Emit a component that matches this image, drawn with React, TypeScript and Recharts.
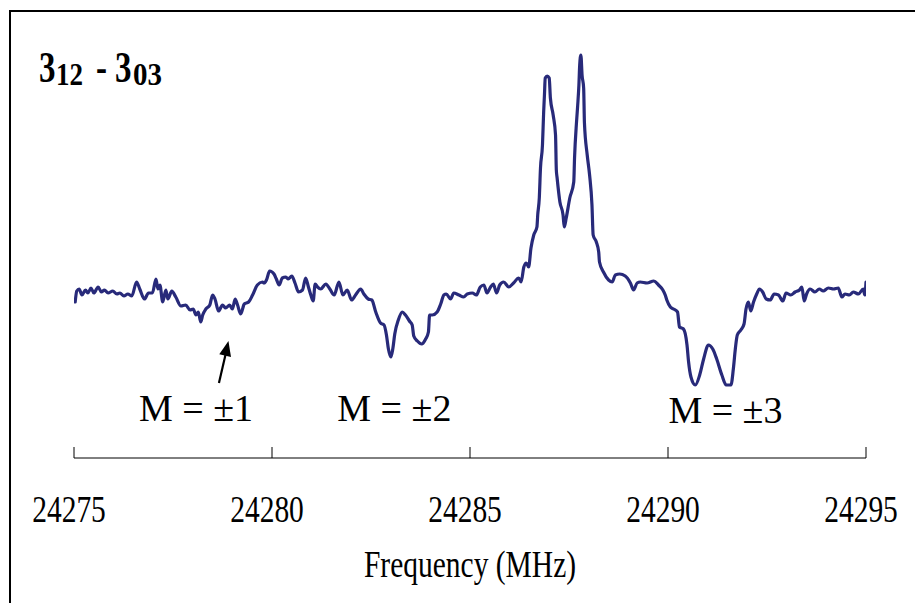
import { Line, LineChart, ReferenceDot, ReferenceLine, XAxis, YAxis } from "recharts"

// Rotational spectrum, 3_12 - 3_03 transition with Stark components.
// Frequencies (MHz) and signal (arb. units).
const FREQ_MHZ = [
  24275.03, 24275.07, 24275.13, 24275.2, 24275.29, 24275.35, 24275.43, 24275.5, 24275.61, 24275.69,
  24275.77, 24275.86, 24275.98, 24276.08, 24276.16, 24276.26, 24276.36, 24276.46, 24276.58, 24276.66,
  24276.78, 24276.88, 24276.98, 24277.07, 24277.12, 24277.17, 24277.24, 24277.32, 24277.37, 24277.47,
  24277.57, 24277.7, 24277.82, 24277.93, 24278.01, 24278.08, 24278.14, 24278.2, 24278.25, 24278.33,
  24278.43, 24278.5, 24278.56, 24278.65, 24278.75, 24278.83, 24278.93, 24279.0, 24279.07, 24279.13,
  24279.21, 24279.3, 24279.41, 24279.51, 24279.63, 24279.76,
  24279.8, 24279.86, 24279.94, 24280.05, 24280.11, 24280.18, 24280.26, 24280.35, 24280.41, 24280.5,
  24280.58, 24280.67, 24280.77, 24280.85, 24280.92, 24280.98, 24281.04, 24281.09, 24281.15, 24281.23,
  24281.36, 24281.46, 24281.57, 24281.69, 24281.79, 24281.9, 24282.01, 24282.11, 24282.24, 24282.32,
  24282.43, 24282.52, 24282.62, 24282.74, 24282.83, 24282.89, 24282.94, 24283.0, 24283.05, 24283.1,
  24283.19, 24283.29, 24283.37, 24283.47, 24283.54, 24283.58, 24283.67, 24283.78, 24283.88, 24283.95,
  24283.98, 24284.05, 24284.17, 24284.26, 24284.34, 24284.4, 24284.51,
  24284.59, 24284.72, 24284.84, 24284.93, 24285.06, 24285.16, 24285.26, 24285.35, 24285.43, 24285.52,
  24285.59, 24285.67, 24285.75, 24285.85, 24285.98, 24286.1, 24286.23, 24286.29, 24286.36, 24286.42,
  24286.48, 24286.54, 24286.61, 24286.69, 24286.71, 24286.75, 24286.78, 24286.83, 24286.86, 24286.88,
  24286.9, 24286.95, 24287.0, 24287.03, 24287.1, 24287.16, 24287.18, 24287.2, 24287.27, 24287.35,
  24287.38, 24287.43, 24287.52, 24287.62, 24287.64, 24287.69, 24287.72, 24287.75, 24287.77, 24287.8,
  24287.83, 24287.87, 24287.89, 24287.96, 24288.02, 24288.08, 24288.11, 24288.19, 24288.25, 24288.27,
  24288.37, 24288.5, 24288.59, 24288.67, 24288.78,
  24288.92, 24289.05, 24289.13, 24289.22, 24289.3, 24289.47, 24289.64, 24289.76, 24289.87, 24289.93,
  24289.97, 24290.06, 24290.14, 24290.24, 24290.29, 24290.39, 24290.48, 24290.52, 24290.58, 24290.69,
  24290.8, 24290.9, 24291.02, 24291.13, 24291.23, 24291.36, 24291.47, 24291.59, 24291.65, 24291.7,
  24291.75, 24291.84, 24291.92, 24291.97, 24292.03, 24292.09, 24292.16, 24292.24, 24292.31, 24292.39,
  24292.48, 24292.58, 24292.68, 24292.79, 24292.9, 24292.98, 24293.1, 24293.21, 24293.32, 24293.38,
  24293.44, 24293.5, 24293.59, 24293.71, 24293.82, 24293.92, 24294.05, 24294.18, 24294.3, 24294.39,
  24294.47, 24294.58, 24294.68, 24294.81, 24294.93, 24294.97, 24295.0,
]

const SIGNAL = [
  -0.2, 0.9, 1.1, 0.5, 1.0, 0.7, 1.2, 0.7, 1.3, 0.8,
  1.0, 0.7, 0.9, 0.6, 0.7, 0.4, 0.6, 0.4, 1.8, 1.1,
  0.1, 0.7, 0.7, 2.1, 1.1, 1.5, -0.2, 1.0, 0.1, 0.9,
  0.3, -0.6, -0.5, -1.0, -0.9, -1.5, -1.2, -2.2, -1.5, -0.9,
  -0.5, 0.5, 0.1, -1.1, -0.5, -0.8, -0.5, -0.9, 0.1, -0.5,
  -1.4, -0.4, -0.2, 0.5, 1.5, 1.8,
  1.7, 2.0, 2.9, 2.6, 2.1, 1.5, 2.2, 2.3, 2.1, 2.4,
  1.7, 0.8, 1.0, 2.2, 1.3, 0.5, -0.1, 1.6, 1.3, 1.1,
  1.6, 1.1, 0.5, 1.8, 0.5, 1.0, 0.0, 0.5, 1.1, 0.6,
  0.1, 0.0, -1.2, -2.3, -2.5, -3.5, -4.9, -5.7, -4.9, -3.4,
  -2.0, -1.2, -1.5, -2.1, -2.5, -3.6, -4.1, -4.4, -3.9, -3.2,
  -1.5, -1.5, -1.2, -0.4, 0.5, 0.6, 0.1,
  0.7, 0.5, 0.3, 0.6, 0.7, 0.5, 1.3, 1.5, 0.7, 1.3,
  1.6, 0.7, 1.5, 1.8, 1.3, 1.7, 2.2, 1.8, 3.3, 3.7,
  3.3, 5.2, 6.5, 7.3, 8.5, 10.2, 13.2, 15.5, 18.8, 20.5,
  22.2, 22.4, 22.2, 20.2, 18.5, 16.5, 13.0, 12.2, 9.8, 8.5,
  7.3, 8.2, 10.2, 11.8, 14.2, 17.8, 19.5, 21.5, 23.5, 24.5,
  22.5, 21.2, 17.7, 14.5, 12.5, 9.5, 6.5, 5.8, 4.8, 3.8,
  2.8, 2.0, 1.8, 2.5, 2.6,
  2.4, 1.7, 1.0, 1.7, 1.8, 1.7, 1.9, 1.5, 1.0, 0.5,
  0.0, -0.7, -0.9, -1.2, -2.7, -2.9, -4.5, -6.2, -7.7, -8.5,
  -7.5, -5.9, -4.5, -4.9, -5.9, -7.5, -8.5, -8.5, -6.9, -4.9,
  -3.5, -3.0, -2.4, -0.9, -0.2, -1.1, -0.2, 0.6, 1.1, 0.8,
  0.1, 0.0, 0.6, 0.5, -0.1, 0.7, 0.5, 0.8, 1.0, 1.3,
  -0.1, 0.6, 1.1, 0.8, 1.1, 0.9, 1.2, 1.1, 1.2, 0.3,
  0.6, 0.5, 0.8, 0.6, 1.1, 0.5, 1.8,
]

const X_TICKS = [24275, 24280, 24285, 24290, 24295]

// Stark component labels
const M_TEXT = ["M = \u00b11", "M = \u00b12", "M = \u00b13"]
const M_FREQ = [24278.08, 24283.09, 24291.45]
const M_LEVEL = [-12.1, -12.1, -12.3]

// arrow pointing at the weak M = ±1 dip
const ARROW_TAIL = { f: 24278.66, v: -8.3 }
const ARROW_BASE = { f: 24278.83, v: -5.4 }
const ARROW_TIP = { f: 24278.9, v: -4.1 }

const data = FREQ_MHZ.map((f, i) => ({ f, v: SIGNAL[i] }))

const SERIF = '"Liberation Serif", "Times New Roman", serif'
const STRETCH = 1.27
const NAVY = "#282a7a"

const FreqTick = (props: any) => {
  const { x, y, payload } = props
  return (
    <g>
      <line x1={x} x2={x} y1={y - 11} y2={y} stroke="#000" strokeWidth={1} />
      <text
        transform={`translate(${x - 5},${y + 64}) scale(1,${STRETCH})`}
        textAnchor="middle"
        fontSize={29.5}
        fontFamily={SERIF}
        fill="#000"
      >
        {payload.value}
      </text>
    </g>
  )
}

const AxisTitle = (props: any) => {
  const vb = props.viewBox
  return (
    <text
      transform={`translate(${vb.x + vb.width / 2},${vb.y + 119}) scale(1,${STRETCH})`}
      textAnchor="middle"
      fontSize={29.5}
      fontFamily={SERIF}
      fill="#000"
    >
      Frequency (MHz)
    </text>
  )
}

const ArrowHead = (props: any) => {
  const { cx, cy } = props
  return (
    <polygon
      points="0,0 6,15 -6,15"
      transform={`translate(${cx},${cy}) rotate(12.7)`}
      fill="#000"
    />
  )
}

const mLabel = (text: string) => (props: any) => (
  <text
    x={props.cx}
    y={props.cy}
    textAnchor="middle"
    fontSize={38}
    fontFamily={SERIF}
    fill="#000"
  >
    {text}
  </text>
)

export default function App() {
  return (
    <div
      style={{
        position: "fixed",
        left: 0,
        top: 0,
        width: 915,
        height: 603,
        overflow: "hidden",
        background: "#fff",
      }}
    >
      <div
        style={{
          position: "absolute",
          left: 9,
          top: 10,
          width: 1000,
          height: 1000,
          borderTop: "2px solid #000",
          borderLeft: "2px solid #000",
        }}
      />
      <LineChart
        width={915}
        height={603}
        data={data}
        margin={{ top: 38, right: 49, bottom: 45, left: 74 }}
        style={{ position: "absolute", left: 0, top: 0 }}
      >
        <XAxis
          dataKey="f"
          type="number"
          domain={[24275, 24295]}
          ticks={X_TICKS}
          allowDataOverflow
          interval={0}
          height={100}
          tickLine={false}
          tickSize={0}
          tickMargin={0}
          axisLine={{ stroke: "#000", strokeWidth: 1 }}
          tick={<FreqTick />}
          label={<AxisTitle />}
        />
        <YAxis hide type="number" domain={[-15.8, 26.2]} allowDataOverflow />
        <Line
          type="monotone"
          dataKey="v"
          stroke={NAVY}
          strokeWidth={3.2}
          strokeLinejoin="round"
          strokeLinecap="round"
          dot={false}
          isAnimationActive={false}
        />
        <ReferenceLine
          segment={[
            { x: ARROW_TAIL.f, y: ARROW_TAIL.v },
            { x: ARROW_BASE.f, y: ARROW_BASE.v },
          ]}
          stroke="#000"
          strokeWidth={2.2}
        />
        <ReferenceDot x={ARROW_TIP.f} y={ARROW_TIP.v} shape={<ArrowHead />} />
        {M_TEXT.map((t, i) => (
          <ReferenceDot key={t} x={M_FREQ[i]} y={M_LEVEL[i]} shape={mLabel(t)} />
        ))}
      </LineChart>
      <svg
        width={300}
        height={110}
        style={{ position: "absolute", left: 0, top: 0 }}
        fontFamily={SERIF}
        fontWeight="bold"
        fill="#000"
      >
        <text transform={`translate(39,82) scale(1,1.35)`} fontSize={33}>3</text>
        <text
          transform={`translate(56,85) scale(1,1.3)`}
          fontSize={24}
          textLength={27}
          lengthAdjust="spacingAndGlyphs"
        >
          12
        </text>
        <text transform={`translate(96,82) scale(1,1.35)`} fontSize={33}>-</text>
        <text transform={`translate(115,82) scale(1,1.35)`} fontSize={33}>3</text>
        <text
          transform={`translate(133,85) scale(1,1.3)`}
          fontSize={24}
          textLength={29}
          lengthAdjust="spacingAndGlyphs"
        >
          03
        </text>
      </svg>
    </div>
  )
}
